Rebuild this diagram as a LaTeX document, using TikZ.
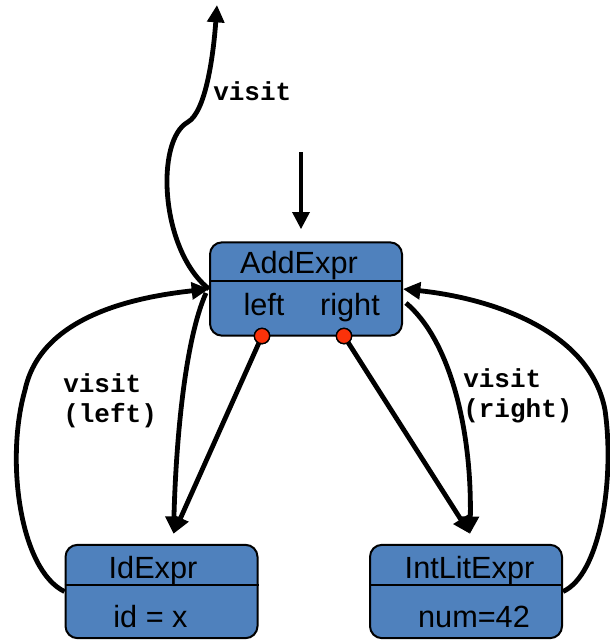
\documentclass[tikz,border=0pt]{standalone}
\usepackage{fontspec}
\setmainfont{Liberation Sans}
\newfontfamily\codefont{Liberation Mono}
\usetikzlibrary{arrows.meta,calc}

\definecolor{boxblue}{RGB}{79,129,189}
\definecolor{portred}{RGB}{250,50,10}

\begin{document}
\begin{tikzpicture}[x=0.75pt,y=-0.75pt,
  classbox/.style={draw=black,line width=1.5pt,fill=boxblue,rounded corners=9pt,
    minimum width=144pt,minimum height=70pt,inner sep=0pt},
  divider/.style={draw=black,line width=1.5pt},
  boxtext/.style={inner sep=0pt,anchor=base,font=\fontsize{23}{27}\selectfont},
  codelabel/.style={inner sep=0pt,anchor=base west,font=\codefont\bfseries\fontsize{19.5}{23}\selectfont},
  portdot/.style={circle,draw=black,line width=1pt,fill=portred,minimum size=11.5pt,inner sep=0pt},
  flow/.style={line width=3.6pt,-{Triangle[length=13pt,width=12.5pt]}},
]
\useasboundingbox (0,0) rectangle (610,640);

% class boxes
\node[classbox] (add) at (306,289) {};
\node[classbox] (idexpr) at (161.5,591.5) {};
\node[classbox] (intlit) at (466,591.5) {};

% compartment dividers
\coordinate (adddiv) at (306,281);
\coordinate (lowdiv) at (306,585);
\draw[divider] (add.west |- adddiv) -- (add.east |- adddiv);
\draw[divider] (idexpr.west |- lowdiv) -- (idexpr.east |- lowdiv);
\draw[divider] (intlit.west |- lowdiv) -- (intlit.east |- lowdiv);

% box texts
\node[boxtext] (addtitle) at (299,273) {AddExpr};
\node[boxtext] (addleft) at (264,315) {left};
\node[boxtext] (addright) at (350,315) {right};
\node[boxtext] (idtitle) at (153,578) {IdExpr};
\node[boxtext] (idfield) at (150.5,627) {id = x};
\node[boxtext] (inttitle) at (469.5,578) {IntLitExpr};
\node[boxtext] (intfield) at (474,627) {num=42};

% field pointer ports
\node[portdot] (pleft) at (262,336) {};
\node[portdot] (pright) at (344,336) {};

% arrow ends
\coordinate (idin) at ($(idexpr.north)+(12,-10)$);
\coordinate (intin) at ($(intlit.north)+(4,-10)$);
\coordinate (callin) at (301,152);
\coordinate (callend) at ($(add.north)+(-5,-12)$);
\coordinate (retout) at (217,5);

% field pointers
\draw[flow] (pleft.center) -- (idin);
\draw[flow] (pright.center) -- (intin);

% incoming call
\draw[flow] (callin) -- (callend);

% return to caller
\draw[flow] (add.west) .. controls (160,250) and (155,140) .. (188,122)
  .. controls (205,112) and (213,60) .. (retout);

% visit(left) and its return
\draw[flow] ($(add.west)+(-3,4)$) .. controls (185,340) and (176,440) .. (idin);
\draw[flow] (idexpr.west) .. controls (20,570) and (5,460) .. (25,390)
  .. controls (40,320) and (125,298) .. (add.west);

% visit(right) and its return
\draw[flow] ($(add.east)+(3,14)$) .. controls (450,340) and (472,430) .. (intin);
\draw[flow] (intlit.east) .. controls (600,575) and (615,480) .. (605,410)
  .. controls (590,330) and (490,298) .. (add.east);

% redraw ports above the lines
\node[portdot] at (pleft) {};
\node[portdot] at (pright) {};

% labels
\node[codelabel] (lbltop) at (213,100) {visit};
\node[codelabel] (lblleft1) at (63,392) {visit};
\node[codelabel] (lblleft2) at (63,422) {(left)};
\node[codelabel] (lblright1) at (463,387) {visit};
\node[codelabel] (lblright2) at (463,417) {(right)};
\end{tikzpicture}
\end{document}
